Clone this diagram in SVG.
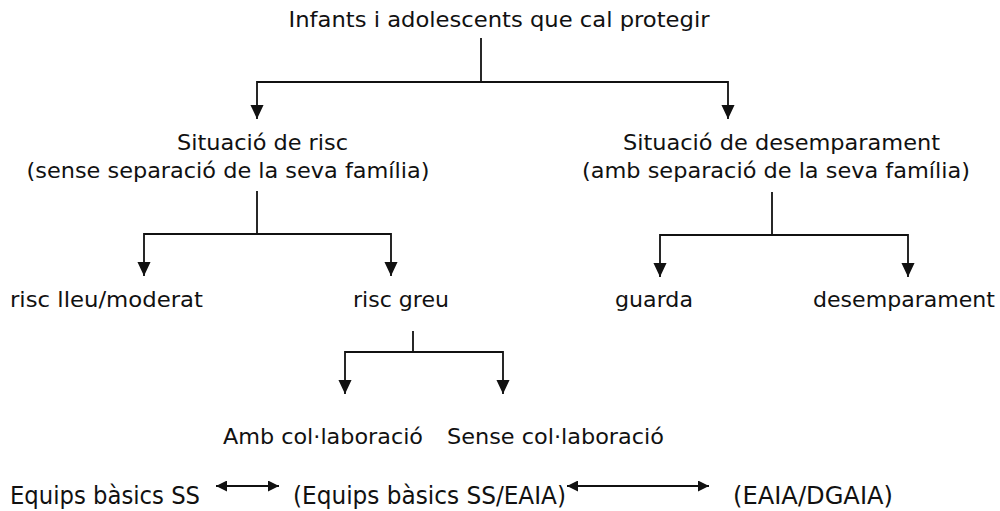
<svg xmlns="http://www.w3.org/2000/svg" width="1000" height="511" viewBox="0 0 1000 511">
<defs>
<style>
text{font-family:"DejaVu Sans","Verdana",sans-serif;font-size:20.5px;fill:#111;}
.c{text-anchor:middle;}
.s{font-size:24px;}
line,polyline{stroke:#111;stroke-width:1.8;fill:none;}
</style>
<marker id="ah" markerWidth="14" markerHeight="15" viewBox="0 0 15 14" refX="15" refY="7" orient="auto" markerUnits="userSpaceOnUse">
<path d="M0,0 L15,7 L0,14 Z" fill="#111"/>
</marker>
<marker id="as" markerWidth="14" markerHeight="15" viewBox="0 0 15 14" refX="0" refY="7" orient="auto" markerUnits="userSpaceOnUse">
<path d="M15,0 L0,7 L15,14 Z" fill="#111"/>
</marker>
<marker id="bh" markerWidth="11" markerHeight="11" viewBox="0 0 11 11" refX="11" refY="5.5" orient="auto" markerUnits="userSpaceOnUse">
<path d="M0,0 L11,5.5 L0,11 Z" fill="#111"/>
</marker>
<marker id="bs" markerWidth="11" markerHeight="11" viewBox="0 0 11 11" refX="0" refY="5.5" orient="auto" markerUnits="userSpaceOnUse">
<path d="M11,0 L0,5.5 L11,11 Z" fill="#111"/>
</marker>
</defs>
<rect width="1000" height="511" fill="#fff"/>
<g id="connectors">
<line x1="481" y1="38" x2="481" y2="82"/>
<polyline points="257,119 257,82 728,82 728,119" marker-start="url(#as)" marker-end="url(#ah)"/>
<line x1="257" y1="191" x2="257" y2="234"/>
<polyline points="144,276 144,234 391,234 391,276" marker-start="url(#as)" marker-end="url(#ah)"/>
<line x1="772" y1="192" x2="772" y2="235"/>
<polyline points="660,277 660,235 908,235 908,277" marker-start="url(#as)" marker-end="url(#ah)"/>
<line x1="413" y1="331" x2="413" y2="352"/>
<polyline points="345,394 345,352 503,352 503,394" marker-start="url(#as)" marker-end="url(#ah)"/>
<line x1="216" y1="486" x2="279" y2="486" marker-start="url(#bs)" marker-end="url(#bh)"/>
<line x1="567" y1="486" x2="709" y2="486" marker-start="url(#bs)" marker-end="url(#bh)"/>
</g>
<g id="root"><text x="499" y="27" class="c" textLength="421" lengthAdjust="spacingAndGlyphs">Infants i adolescents que cal protegir</text></g>
<g id="risc">
<text x="262.5" y="150" class="c" textLength="171" lengthAdjust="spacingAndGlyphs">Situació de risc</text>
<text x="228" y="178" class="c" textLength="403" lengthAdjust="spacingAndGlyphs">(sense separació de la seva família)</text>
</g>
<g id="desemparament-sit">
<text x="781.5" y="150" class="c" textLength="317" lengthAdjust="spacingAndGlyphs">Situació de desemparament</text>
<text x="776" y="178" class="c" textLength="388" lengthAdjust="spacingAndGlyphs">(amb separació de la seva família)</text>
</g>
<g id="risc-lleu"><text x="10" y="307" textLength="193" lengthAdjust="spacingAndGlyphs">risc lleu/moderat</text></g>
<g id="risc-greu"><text x="353" y="307" textLength="96" lengthAdjust="spacingAndGlyphs">risc greu</text></g>
<g id="guarda"><text x="615" y="307" textLength="78" lengthAdjust="spacingAndGlyphs">guarda</text></g>
<g id="desemparament"><text x="813" y="307" textLength="182" lengthAdjust="spacingAndGlyphs">desemparament</text></g>
<g id="amb-col"><text x="223" y="444" textLength="200" lengthAdjust="spacingAndGlyphs">Amb col·laboració</text></g>
<g id="sense-col"><text x="447" y="444" textLength="217" lengthAdjust="spacingAndGlyphs">Sense col·laboració</text></g>
<g id="equips"><text x="10" y="504" class="s" textLength="190" lengthAdjust="spacingAndGlyphs">Equips bàsics SS</text></g>
<g id="equips-eaia"><text x="293" y="504" class="s" textLength="273" lengthAdjust="spacingAndGlyphs">(Equips bàsics SS/EAIA)</text></g>
<g id="eaia-dgaia"><text x="733" y="504" class="s" textLength="160" lengthAdjust="spacingAndGlyphs">(EAIA/DGAIA)</text></g>
</svg>
